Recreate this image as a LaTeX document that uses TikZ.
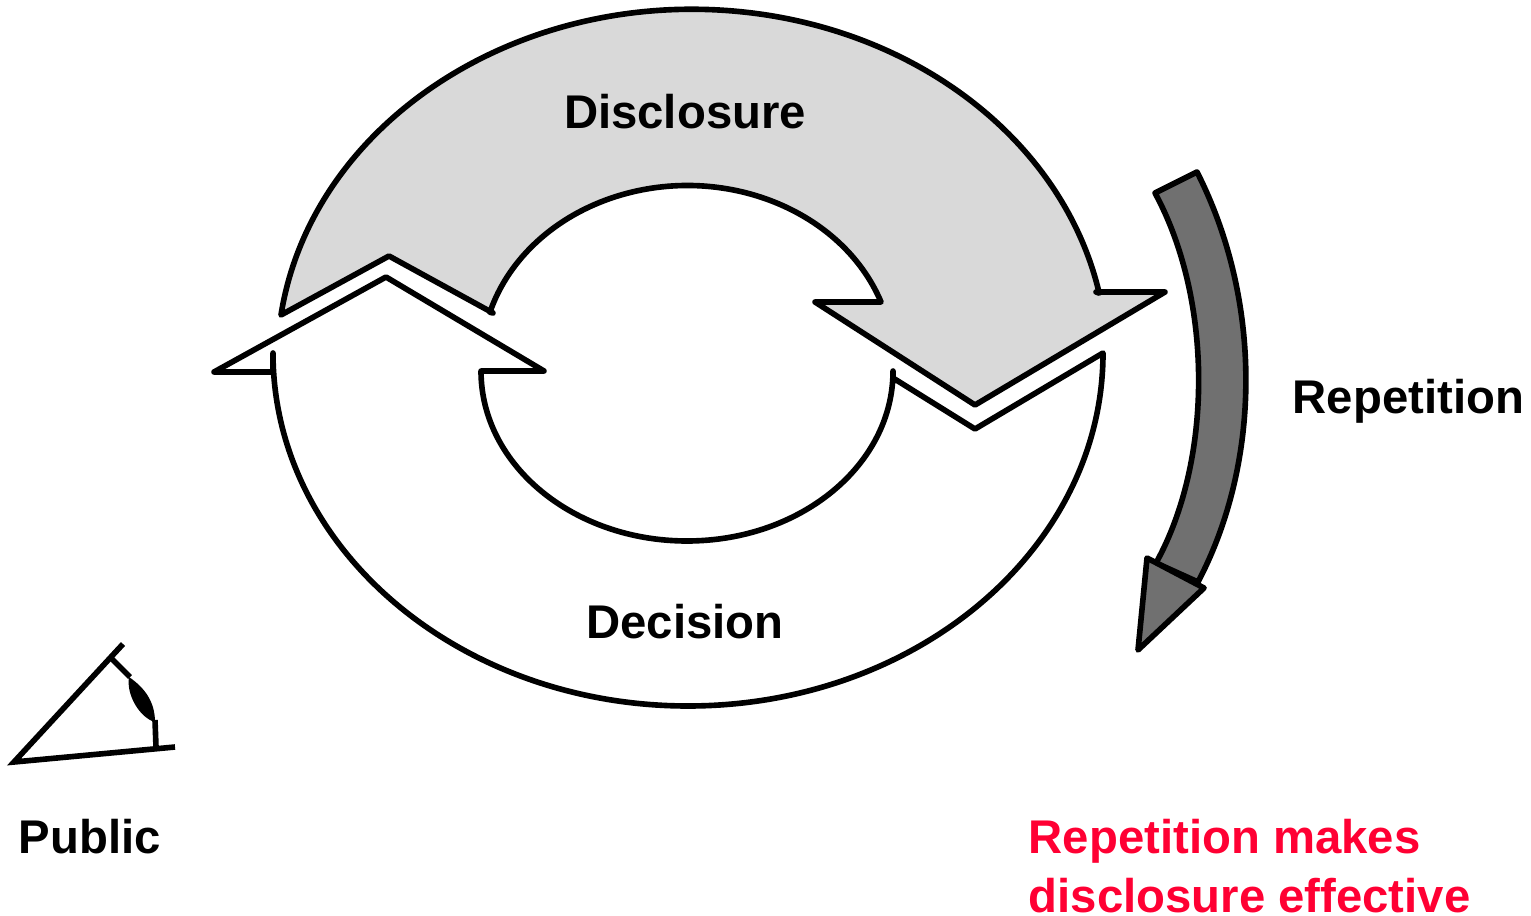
\documentclass[tikz,border=0pt]{standalone}
\usepackage{fontspec}
\setmainfont{Liberation Sans}
\usetikzlibrary{positioning}
\definecolor{discfill}{HTML}{D9D9D9}
\definecolor{repfill}{HTML}{707070}
\definecolor{punchred}{HTML}{FF0033}
\tikzset{
  outline/.style={draw=black, line width=1.6pt, line join=round},
  label/.style={font=\fontsize{13.45}{16.5}\selectfont\bfseries, text=black, inner sep=0pt},
}

\begin{document}
\begin{tikzpicture}[x=0.01cm, y=-0.01cm]
\useasboundingbox (0, 0) rectangle (1531, 916);

% Disclosure arrow
\draw[outline, fill=discfill] (281, 315)
  arc[start angle=172.3, end angle=11.3, x radius=415, y radius=-353]
  -- (1096, 292) -- (1165, 292) -- (975, 405) -- (815, 302) -- (881, 302)
  arc[start angle=20, end angle=163.5, x radius=206, y radius=-177]
  -- (493, 313) -- (389, 256) -- cycle;

% Decision arrow
\draw[outline, fill=white] (273, 372) -- (214, 372) -- (386, 277) -- (544, 371) -- (481, 371)
  arc[start angle=180, end angle=360, x radius=206, y radius=-170]
  -- (893, 378) -- (975, 429) -- (1103, 353)
  arc[start angle=0, end angle=-180, x radius=415, y radius=-353]
  -- cycle;

% Repetition arrow
\draw[outline, fill=repfill] (1155, 193) -- (1197, 172)
  .. controls (1262, 300) and (1262, 460) .. (1198, 582)
  -- (1156, 563)
  .. controls (1213, 460) and (1213, 300) .. (1155, 193) -- cycle;
\draw[outline, fill=repfill] (1147, 558) -- (1204, 588) -- (1138, 650) -- cycle;

% Eye
\draw[black, line width=1.6pt] (123, 644) -- (14, 762) -- (175, 747);
\draw[black, line width=1.6pt] (111, 658) -- (130, 677);
\draw[black, line width=1.6pt] (155, 720) -- (156, 747);
\fill[black] (129, 677) .. controls (145, 688) and (155, 702) .. (155, 722)
  .. controls (140, 718) and (126, 695) .. (129, 677) -- cycle;

% Labels
\node[label] (disclosure) at (685, 112) {Disclosure};
\node[label] (decision) at (685, 622) {Decision};
\node[label, anchor=west] (repetition) at (1292, 401) {Repetition};
\node[label, anchor=west] (public) at (18, 837) {Public};
\node[label, anchor=north west, text=punchred, align=left] (claim) at (1028, 819) {Repetition makes\\disclosure effective};

\end{tikzpicture}
\end{document}
